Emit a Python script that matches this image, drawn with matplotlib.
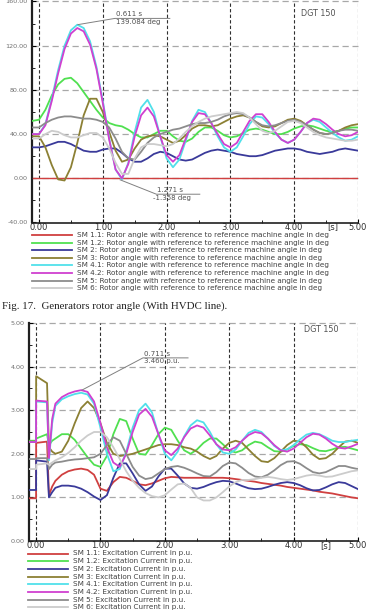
import numpy as np
import matplotlib
matplotlib.use("Agg")
import matplotlib.pyplot as plt
from matplotlib.lines import Line2D
from matplotlib.ticker import MultipleLocator
import matplotlib.transforms as mtransforms

plt.rcParams['font.family'] = ['DejaVu Sans']

# ---- data: rotor angle (deg), sampled every 0.1 s from -0.1 to 5.0 ----
t_ang = np.round(np.arange(-0.1, 5.001, 0.1), 2)

ang_sm11_t = [-0.1, 5.0]
ang_sm11 = [0.0, 0.0]
ang_sm12 = [52, 53, 62, 75, 85, 90, 91, 86, 78, 70, 62, 55, 50, 48, 47, 44, 40, 37, 37, 40, 43,
            43, 38, 34, 33, 36, 42, 46, 46, 43, 39, 37, 38, 41, 44, 45, 44, 42, 40, 40, 42,
            45, 47, 48, 47, 45, 43, 42, 43, 45, 46, 46]
ang_sm2 = [28, 28, 29, 31, 33, 33, 31, 28, 25, 24, 24, 26, 27, 27, 23, 18, 15, 15, 18, 22, 24,
           23, 20, 17, 16, 17, 20, 23, 25, 26, 25, 24, 22, 21, 20, 20, 21, 23, 25, 26, 27,
           27, 26, 24, 23, 22, 23, 24, 26, 27, 26, 25]
ang_sm3 = [38, 38, 28, 12, -1, -2, 10, 32, 57, 72, 72, 60, 42, 25, 15, 17, 27, 35, 38, 39, 38,
           35, 32, 34, 39, 45, 48, 48, 47, 48, 51, 54, 56, 57, 55, 51, 47, 46, 47, 50, 53,
           54, 52, 48, 44, 41, 40, 41, 43, 46, 48, 49]
ang_sm41 = [40, 40, 49, 72, 98, 120, 134, 139, 136, 124, 101, 70, 36, 8, -1, 14, 42, 64, 71, 60,
            38, 18, 10, 17, 34, 52, 62, 60, 50, 38, 28, 24, 28, 38, 49, 56, 55, 49, 41, 35,
            32, 35, 42, 50, 53, 51, 46, 41, 37, 34, 35, 38]
ang_sm42 = [40, 40, 48, 70, 95, 117, 131, 136, 133, 121, 99, 68, 35, 8, 0, 13, 38, 57, 64, 56,
            38, 21, 15, 21, 36, 51, 59, 58, 50, 40, 31, 28, 32, 42, 52, 58, 58, 51, 42, 35,
            32, 35, 42, 50, 54, 53, 49, 44, 40, 38, 39, 42]
ang_sm5 = [46, 46, 50, 53, 55, 56, 56, 55, 54, 54, 53, 51, 46, 36, 24, 18, 17, 24, 32, 37, 40,
           42, 44, 45, 47, 49, 50, 50, 51, 53, 56, 58, 59, 58, 55, 51, 48, 47, 48, 50, 52,
           53, 51, 48, 44, 41, 40, 41, 43, 44, 44, 43]
ang_sm6 = [36, 36, 40, 43, 42, 39, 37, 37, 39, 41, 41, 37, 27, 14, 4, 4, 18, 28, 31, 31, 30,
           29, 31, 36, 42, 47, 51, 54, 56, 57, 58, 59, 60, 59, 55, 49, 43, 41, 43, 47, 51,
           52, 50, 46, 42, 39, 37, 36, 35, 34, 34, 35]

# ---- data: excitation current (p.u.) ----
t_exc = [-0.1, 0.0, 0.001, 0.17, 0.2, 0.25] + list(np.round(np.arange(0.3, 5.001, 0.1), 2))

exc_sm11 = [0.98, 0.98, 2.25, 2.28, 1.05, 1.25, 1.38, 1.52, 1.6, 1.64, 1.66, 1.63, 1.52, 1.2,
            1.15, 1.35, 1.47, 1.45, 1.38, 1.3, 1.28, 1.32, 1.38, 1.44, 1.47, 1.46, 1.45, 1.45,
            1.45, 1.45, 1.45, 1.45, 1.45, 1.44, 1.42, 1.4, 1.38, 1.36, 1.33, 1.31, 1.29, 1.27,
            1.24, 1.22, 1.2, 1.18, 1.16, 1.13, 1.11, 1.09, 1.06, 1.03, 1.0, 0.98]
exc_sm12 = [2.3, 2.3, 2.35, 2.45, 2.2, 2.3, 2.35, 2.45, 2.45, 2.32, 2.12, 1.92, 1.75, 1.7,
            1.95, 2.45, 2.8, 2.75, 2.35, 2.0, 1.98, 2.2, 2.45, 2.6, 2.55, 2.3, 2.08, 2.0, 2.1,
            2.25, 2.35, 2.35, 2.22, 2.08, 2.03, 2.08, 2.2, 2.28, 2.25, 2.15, 2.06, 2.05, 2.1,
            2.18, 2.22, 2.2, 2.13, 2.07, 2.06, 2.1, 2.15, 2.16, 2.12, 2.08]
exc_sm2 = [1.17, 1.17, 1.85, 1.82, 1.0, 1.12, 1.22, 1.27, 1.27, 1.25, 1.2, 1.12, 1.02, 0.94,
           1.05, 1.45, 1.78, 1.78, 1.55, 1.3, 1.15, 1.25, 1.48, 1.66, 1.66, 1.5, 1.32, 1.22,
           1.2, 1.24, 1.3, 1.35, 1.38, 1.37, 1.32, 1.26, 1.21, 1.19, 1.2, 1.24, 1.29, 1.33,
           1.35, 1.33, 1.28, 1.21, 1.16, 1.17, 1.23, 1.3, 1.35, 1.33, 1.26, 1.19]
exc_sm3 = [2.28, 2.28, 3.78, 3.62, 2.15, 2.05, 2.0, 2.05, 2.3, 2.7, 3.05, 3.2, 3.05, 2.7,
           2.25, 2.0, 1.95, 1.97, 2.0, 2.05, 2.1, 2.15, 2.2, 2.22, 2.22, 2.2, 2.15, 2.12,
           2.05, 1.95, 1.88, 1.95, 2.12, 2.25, 2.3, 2.25, 2.1, 1.95, 1.83, 1.81, 1.9, 2.05,
           2.2, 2.3, 2.28, 2.15, 1.98, 1.88, 1.9, 2.0, 2.15, 2.28, 2.3, 2.25]
exc_sm41 = [2.27, 2.27, 3.2, 3.18, 1.85, 2.7, 3.1, 3.25, 3.32, 3.37, 3.4, 3.36, 3.15, 2.6,
            2.0, 1.6, 1.65, 2.05, 2.6, 3.0, 3.15, 2.95, 2.45, 2.0, 1.85, 2.05, 2.4, 2.65,
            2.77, 2.72, 2.5, 2.22, 2.03, 2.0, 2.1, 2.3, 2.48, 2.55, 2.5, 2.35, 2.18, 2.08,
            2.1, 2.2, 2.33, 2.44, 2.48, 2.45, 2.38, 2.3, 2.27, 2.27, 2.3, 2.32]
exc_sm42 = [2.27, 2.27, 3.22, 3.2, 1.9, 2.8, 3.15, 3.3, 3.38, 3.43, 3.46, 3.42, 3.2, 2.7,
            2.15, 1.8, 1.7, 2.0, 2.5, 2.9, 3.03, 2.85, 2.45, 2.08, 1.97, 2.12, 2.38, 2.58,
            2.65, 2.6, 2.42, 2.22, 2.1, 2.08, 2.15, 2.3, 2.43, 2.5, 2.47, 2.35, 2.2, 2.08,
            2.05, 2.12, 2.25, 2.38, 2.46, 2.44, 2.35, 2.23, 2.14, 2.12, 2.17, 2.23]
exc_sm5 = [1.88, 1.88, 1.9, 1.9, 1.65, 1.75, 1.8, 1.82, 1.85, 1.87, 1.88, 1.9, 1.92, 2.0,
           2.2, 2.38, 2.3, 2.0, 1.7, 1.5, 1.42, 1.45, 1.55, 1.65, 1.7, 1.72, 1.68, 1.62,
           1.55, 1.49, 1.48, 1.58, 1.72, 1.8, 1.78, 1.68, 1.56, 1.48, 1.46, 1.52, 1.62, 1.74,
           1.82, 1.83, 1.77, 1.67, 1.58, 1.55, 1.58, 1.65, 1.72, 1.72, 1.68, 1.65]
exc_sm6 = [1.65, 1.65, 1.75, 1.78, 1.75, 1.8, 1.85, 1.92, 2.02, 2.15, 2.3, 2.42, 2.5, 2.5,
           2.38, 2.15, 1.88, 1.6, 1.38, 1.22, 1.1, 1.03, 1.0, 1.05, 1.18, 1.3, 1.32, 1.22,
           1.0, 0.93, 0.93, 1.0, 1.12, 1.25, 1.35, 1.4, 1.4, 1.42, 1.45, 1.47, 1.45, 1.42,
           1.4, 1.42, 1.46, 1.5, 1.52, 1.5, 1.47, 1.48, 1.52, 1.56, 1.6, 1.62]

names = ["SM 1.1", "SM 1.2", "SM 2", "SM 3", "SM 4.1", "SM 4.2", "SM 5", "SM 6"]
colors = ["#d04040", "#50e050", "#3a3a9a", "#8c8034", "#50e0ea", "#d040d0", "#8c8c8c", "#cccccc"]

ang_series = [ang_sm12, ang_sm2, ang_sm3, ang_sm41, ang_sm42, ang_sm5, ang_sm6]
exc_series = [exc_sm11, exc_sm12, exc_sm2, exc_sm3, exc_sm41, exc_sm42, exc_sm5, exc_sm6]

W, H = 370, 611
fig = plt.figure(figsize=(W / 100, H / 100), dpi=100)
small = dict(fontsize=5.0, color='#505050', va='center')


def px_box(left, top, right, bottom):
    return [left / W, 1 - bottom / H, (right - left) / W, (bottom - top) / H]


def style_axes(ax, ymin, ymax, ystep):
    ax.set_xlim(-0.11, 5.0)
    ax.set_ylim(ymin, ymax)
    ax.set_xticks([0, 1, 2, 3, 4, 5])
    ax.set_xticklabels(["0.00", "1.00", "2.00", "3.00", "4.00", "5.00"])
    yt = np.arange(ymin, ymax + ystep / 2, ystep)
    ax.set_yticks(yt)
    ax.set_yticklabels(["%.2f" % v for v in yt])
    ax.xaxis.set_minor_locator(MultipleLocator(0.5))
    ax.yaxis.set_minor_locator(MultipleLocator(ystep / 2))
    ax.tick_params(axis='x', which='major', direction='in', length=3, labelsize=6.0,
                   labelcolor='#303030', pad=0)
    ax.tick_params(axis='y', which='major', direction='in', length=3, labelsize=4.6,
                   labelcolor='#707070', pad=3)
    ax.tick_params(which='minor', direction='in', length=2)
    ax.tick_params(top=False, right=False)
    for s in ['top', 'right']:
        ax.spines[s].set_visible(False)
    ax.spines['left'].set_linewidth(1.6)
    ax.spines['left'].set_color('#202020')
    ax.spines['bottom'].set_linewidth(1.2)
    ax.spines['bottom'].set_color('#202020')
    for v in yt[1:]:
        ax.axhline(v, color='#a8a8a8', lw=0.9, ls=(0, (5, 3)), zorder=0, clip_on=False)
    for v in range(0, 6):
        ax.axvline(v, color='#303030', lw=0.8, ls=(0, (3, 2)), zorder=0)
    return mtransforms.blended_transform_factory(ax.transData, ax.transAxes)


# ---------------- top chart: rotor angle ----------------
ax1 = fig.add_axes(px_box(32, 1.5, 358, 222.5))
ax1.plot(ang_sm11_t, ang_sm11, color=colors[0], lw=1.0, zorder=3)
for vals, col in zip(ang_series, colors[1:]):
    ax1.plot(t_ang, vals, color=col, lw=1.3, zorder=3)
tr1 = style_axes(ax1, -40, 160, 40)
ax1.text(4.6, 0, "[s]", transform=tr1, fontsize=6.0, color='#303030', ha='center', va='top')
ax1.text(4.1, 149, "DGT 150", fontsize=5.8, color='#505050', va='center')
ax1.plot([0.611, 1.19, 2.05], [139.084, 144.7, 144.7], color='#808080', lw=0.7, zorder=4)
ax1.text(1.2, 148.4, "0.611 s", **small)
ax1.text(1.2, 141.8, "139.084 deg", **small)
ax1.plot([1.271, 1.84, 2.52], [-1.358, -14.4, -14.4], color='#808080', lw=0.7, zorder=4)
ax1.text(1.85, -11.0, "1.271 s", **small)
ax1.text(1.78, -17.6, "-1.358 deg", **small)

# ---------------- bottom chart: excitation current ----------------
ax2 = fig.add_axes(px_box(29, 323, 358, 541))
for vals, col in zip(exc_series, colors):
    ax2.plot(t_exc, vals, color=col, lw=1.3, zorder=3)
tr2 = style_axes(ax2, 0, 5, 1)
ax2.text(4.5, 0, "[s]", transform=tr2, fontsize=6.0, color='#303030', ha='center', va='top')
ax2.text(4.16, 4.84, "DGT 150", fontsize=5.8, color='#505050', va='center')
ax2.plot([0.711, 1.66, 2.36], [3.46, 4.2, 4.2], color='#808080', lw=0.7, zorder=4)
ax2.text(1.67, 4.29, "0.711 s", **small)
ax2.text(1.67, 4.12, "3.460 p.u.", **small)

# ---------------- legends ----------------
ang_labels = [n + ": Rotor angle with reference to reference machine angle in deg" for n in names]
exc_labels = [n + ": Excitation Current in p.u." for n in names]


def draw_legend(labels, x0, x1, xt, y0, dy):
    for i, (lab, col) in enumerate(zip(labels, colors)):
        y = 1 - (y0 + i * dy) / H
        fig.add_artist(Line2D([x0 / W, x1 / W], [y, y], color=col, lw=1.3,
                              transform=fig.transFigure))
        fig.text(xt / W, y, lab, fontsize=5.2, color='#404040', va='center')


draw_legend(ang_labels, 32, 72, 77, 235, 7.6)
draw_legend(exc_labels, 28, 68, 73, 553.5, 7.7)

fig.text(2 / W, 1 - 306 / H, "Fig. 17.  Generators rotor angle (With HVDC line).",
         fontsize=7.8, family='Liberation Serif', color='#202020', va='center')

fig.savefig("out.png", dpi=100)
